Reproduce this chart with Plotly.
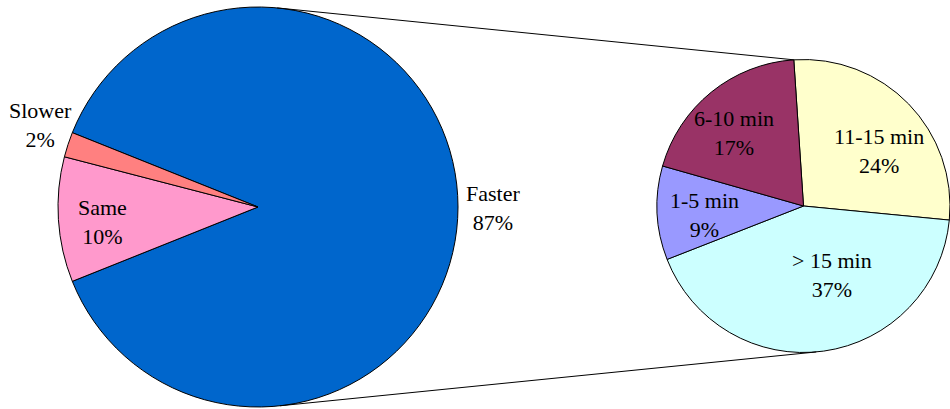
import math
import plotly.graph_objects as go

W, H = 950, 409

# Main pie: how the new process compares
speed_labels = ["Faster", "Same", "Slower"]
speed_values = [87, 10, 2]
speed_colors = ["#0066CC", "#FF99CC", "#FF8080"]

# Breakdown of the "Faster" share by time saved
time_labels = ["11-15 min", "> 15 min", "1-5 min", "6-10 min"]
time_values = [24, 37, 9, 17]
time_colors = ["#FFFFCC", "#CCFFFF", "#9999FF", "#993366"]

FONT = dict(family="Liberation Serif", size=22, color="black")

# Pie bounding boxes in pixels
main_box = dict(x0=58, x1=458, y0=7, y1=407)
sub_box = dict(x0=657, x1=950, y0=56, y1=356)


def dom(box):
    return dict(x=[box["x0"] / W, box["x1"] / W],
                y=[1 - box["y1"] / H, 1 - box["y0"] / H])


def geom(box):
    r = min(box["x1"] - box["x0"], box["y1"] - box["y0"]) / 2
    cx = (box["x0"] + box["x1"]) / 2
    cy = (box["y0"] + box["y1"]) / 2
    return cx, cy, r


# "Faster" slice centred on 3 o'clock
main_rotation = 90 - 180 * speed_values[0] / sum(speed_values)
sub_rotation = -3.8

fig = go.Figure()
fig.add_trace(go.Pie(
    labels=speed_labels, values=speed_values, sort=False,
    direction="clockwise", rotation=main_rotation,
    marker=dict(colors=speed_colors, line=dict(color="black", width=1)),
    textinfo="none", domain=dom(main_box), showlegend=False,
))
fig.add_trace(go.Pie(
    labels=time_labels, values=time_values, sort=False,
    direction="clockwise", rotation=sub_rotation,
    marker=dict(colors=time_colors, line=dict(color="black", width=1)),
    textinfo="none", domain=dom(sub_box), showlegend=False,
))

# Connector lines between the two pies
mcx, mcy, mr = geom(main_box)
scx, scy, sr = geom(sub_box)


def on_circle(cx, cy, r, deg):
    a = math.radians(deg)
    return cx + r * math.sin(a), cy - r * math.cos(a)


for a_main, a_sub in [(5.5, sub_rotation), (173.7, 175.0)]:
    x0, y0 = on_circle(mcx, mcy, mr, a_main)
    x1, y1 = on_circle(scx, scy, sr, a_sub)
    fig.add_shape(type="line", xref="paper", yref="paper",
                  x0=x0 / W, y0=1 - y0 / H, x1=x1 / W, y1=1 - y1 / H,
                  line=dict(color="black", width=1))

# Label anchor points (pixels)
speed_label_pos = {"Faster": (493, 208), "Same": (102.5, 222), "Slower": (40, 125)}
time_label_pos = {"11-15 min": (879, 151), "> 15 min": (832, 275),
                  "1-5 min": (704, 215), "6-10 min": (734, 133)}

for labels, values, pos in [(speed_labels, speed_values, speed_label_pos),
                            (time_labels, time_values, time_label_pos)]:
    for lab, val in zip(labels, values):
        x, y = pos[lab]
        fig.add_annotation(
            x=x / W, y=1 - y / H, xref="paper", yref="paper",
            text=f"{lab}<br>{val}%", showarrow=False, font=FONT,
            xanchor="center", yanchor="middle", align="center",
        )

fig.update_layout(
    width=W, height=H, margin=dict(l=0, r=0, t=0, b=0),
    paper_bgcolor="white", plot_bgcolor="white",
    font=FONT,
)

fig.write_html("out.html")
